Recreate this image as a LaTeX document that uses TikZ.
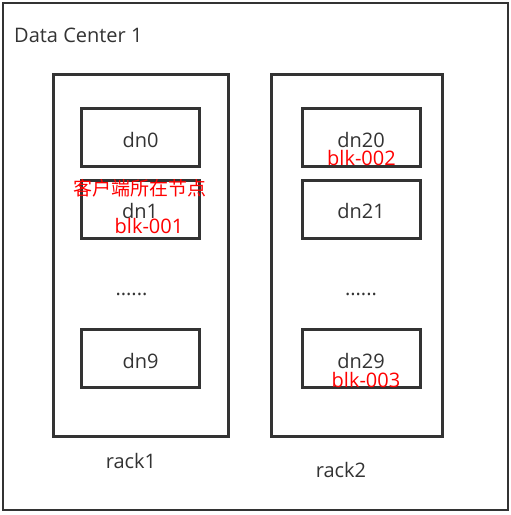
\documentclass[tikz,border=0pt]{standalone}
\usepackage{fontspec}
\setmainfont{Open Sans}
\newfontfamily\cjk{Noto Sans CJK SC}
\definecolor{linegray}{HTML}{333333}
\definecolor{blkred}{HTML}{FF0000}

\begin{document}
\begin{tikzpicture}[x=1pt,y=-1pt,
    rackbox/.style={draw=linegray,line width=3pt,inner sep=0pt},
    dnbox/.style={draw=linegray,line width=3pt,inner sep=0pt,minimum width=118pt,minimum height=58pt},
    lbl/.style={text=linegray,inner sep=0pt,anchor=base,font=\fontsize{20}{23}\selectfont},
    blk/.style={text=blkred,inner sep=0pt,anchor=base,font=\fontsize{20}{23}\selectfont}]
    \useasboundingbox (0,0) rectangle (511,515);
    \draw[linegray,line width=2pt] (3,3) rectangle (508,510);
    \node[lbl,anchor=base west] (dc) at (14,42) {Data Center 1};

    \node[rackbox,minimum width=175pt,minimum height=362pt] (rack1) at (140.5,255) {};
    \node[rackbox,minimum width=171pt,minimum height=362pt] (rack2) at (356.5,255) {};

    \node[dnbox] (dn0) at (140.5,137) {};
    \node[dnbox] (dn1) at (140.5,209) {};
    \node[dnbox] (dn9) at (140.5,358.5) {};
    \node[dnbox] (dn20) at (361,137) {};
    \node[dnbox] (dn21) at (361,209) {};
    \node[dnbox] (dn29) at (361,358.5) {};

    \node[lbl] (t0) at (140.5,147) {dn0};
    \node[lbl] (t1) at (140,218) {dn1};
    \node[lbl] (t9) at (140.5,368) {dn9};
    \node[lbl] (t20) at (361,147) {dn20};
    \node[lbl] (t21) at (361,218) {dn21};
    \node[lbl] (t29) at (361,368) {dn29};
    \node[lbl] (dots1) at (131.5,295) {......};
    \node[lbl] (dots2) at (361,295) {......};
    \node[lbl] (r1) at (131,468) {rack1};
    \node[lbl] (r2) at (341,477) {rack2};

    \node[blk,anchor=center,font=\cjk\fontsize{19}{22}\selectfont] (client) at (140.5,188.5) {客户端所在节点};
    \node[blk] (b1) at (149,233) {blk-001};
    \node[blk] (b2) at (361.5,165) {blk-002};
    \node[blk] (b3) at (366,387) {blk-003};
\end{tikzpicture}
\end{document}
